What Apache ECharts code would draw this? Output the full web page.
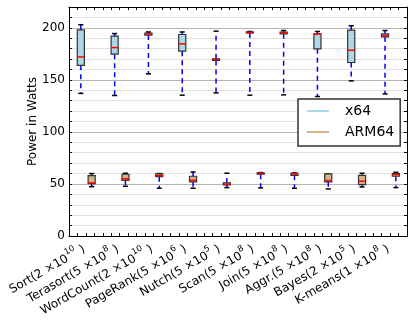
<!DOCTYPE html>
<html>
<head>
<meta charset="utf-8">
<script src="https://cdn.jsdelivr.net/npm/echarts@6/dist/echarts.min.js"></script>
<style>
  html, body { margin: 0; padding: 0; background: #fff; }
  #chart { width: 415px; height: 324px; }
</style>
</head>
<body>
<div id="chart"></div>
<script>
// workload names with input sizes
const categories = [
  'Sort(2 ×10¹⁰ )', 'Terasort(5 ×10⁸ )', 'WordCount(2 ×10¹⁰ )', 'PageRank(5 ×10⁶ )',
  'Nutch(5 ×10⁵ )', 'Scan(5 ×10⁸ )', 'Join(5 ×10⁸ )', 'Aggr.(5 ×10⁸ )',
  'Bayes(2 ×10⁵ )', 'K-means(1 ×10⁸ )'
]

// [low whisker, q1, median, q3, high whisker]
const x64Stats = [
  [137, 164, 172, 198, 203],
  [135, 174.7, 181, 192, 194.5],
  [155.8, 193, 194, 195, 196],
  [135.3, 177.6, 184.6, 193.6, 196],
  [137.5, 168.7, 169.6, 170.3, 196.8],
  [135.3, 195, 195.5, 196, 196.5],
  [135.6, 194.2, 195.2, 196, 197.4],
  [134, 179.8, 194, 194.2, 196.5],
  [149, 166.7, 178.5, 197.8, 202],
  [136.5, 191.3, 192.6, 194.2, 197.4]
]

const arm64Stats = [
  [47.4, 50.3, 51, 58, 60],
  [47.8, 53.5, 55, 59.3, 60.3],
  [45.9, 57, 58, 59.6, 60],
  [45.9, 52, 53.5, 57.4, 61.5],
  [46.5, 49, 49.7, 51, 60.3],
  [46.2, 59.3, 60, 60.6, 60.9],
  [45.9, 58.3, 59.6, 60.3, 60.6],
  [45.2, 52, 53.2, 59.6, 59.6],
  [47.1, 49.4, 52.6, 58.3, 60.3],
  [46.5, 57.4, 59, 60, 61.2]
]

const FONT = 'DejaVu Sans'
const SUP = { '⁰': '0', '¹': '1', '²': '2', '³': '3', '⁴': '4', '⁵': '5', '⁶': '6', '⁷': '7', '⁸': '8', '⁹': '9' }

// turn unicode superscripts into rich text fragments
function richLabel(s) {
  return s.replace(/([⁰¹²³⁴⁵⁶⁷⁸⁹]+)/g, m => '}{sup|' + m.split('').map(c => SUP[c]).join('') + '}{n|')
    .replace(/^/, '{n|') + '}'
}

const chart = echarts.init(document.getElementById('chart'), null, { renderer: 'canvas' })

function boxRenderer(fill) {
  return function (params, api) {
    const x = api.value(0)
    const pLo = api.coord([x, api.value(1)])
    const pQ1 = api.coord([x, api.value(2)])
    const pMed = api.coord([x, api.value(3)])
    const pQ3 = api.coord([x, api.value(4)])
    const pHi = api.coord([x, api.value(5)])
    const cx = pLo[0]
    const bw = api.size([0.21, 0])[0]
    const cw = api.size([0.15, 0])[0]
    const whisker = { stroke: '#0000ff', lineWidth: 1.5, lineDash: [5, 4] }
    const cap = { stroke: '#000', lineWidth: 1.5 }
    return {
      type: 'group',
      children: [
        { type: 'line', shape: { x1: cx, y1: pQ3[1], x2: cx, y2: pHi[1] }, style: whisker },
        { type: 'line', shape: { x1: cx, y1: pQ1[1], x2: cx, y2: pLo[1] }, style: whisker },
        { type: 'line', shape: { x1: cx - cw / 2, y1: pHi[1], x2: cx + cw / 2, y2: pHi[1] }, style: cap },
        { type: 'line', shape: { x1: cx - cw / 2, y1: pLo[1], x2: cx + cw / 2, y2: pLo[1] }, style: cap },
        {
          type: 'rect',
          shape: { x: cx - bw / 2, y: pQ3[1], width: bw, height: pQ1[1] - pQ3[1] },
          style: { fill: fill, stroke: '#333', lineWidth: 1.2 }
        },
        { type: 'line', shape: { x1: cx - bw / 2, y1: pMed[1], x2: cx + bw / 2, y2: pMed[1] }, style: { stroke: '#ff0000', lineWidth: 1.5 } }
      ]
    }
  }
}

const x64Data = x64Stats.map((s, i) => [i + 0.35].concat(s))
const arm64Data = arm64Stats.map((s, i) => [i + 0.67].concat(s))

const yTicks = {
  min: 0,
  max: 220,
  interval: 10
}

const option = {
  animation: false,
  textStyle: { fontFamily: FONT },
  grid: { left: 69, right: 8, top: 7, bottom: 88 },
  legend: {
    data: ['x64', 'ARM64'],
    orient: 'vertical',
    left: 298,
    top: 99,
    icon: 'rect',
    itemWidth: 22,
    itemHeight: 2,
    itemGap: 5,
    padding: [4, 6, 6, 9],
    backgroundColor: '#fff',
    borderColor: '#333',
    borderWidth: 1.5,
    borderRadius: 0,
    textStyle: { fontFamily: FONT, fontSize: 14, color: '#000', lineHeight: 16, padding: [0, 0, 0, 11] }
  },
  xAxis: [
    {
      type: 'category',
      data: categories,
      boundaryGap: true,
      position: 'bottom',
      axisLine: { show: false },
      axisTick: { show: false },
      splitLine: { show: false },
      axisLabel: {
        interval: 0,
        rotate: 30,
        margin: 9,
        padding: [0, 3, 0, 0],
        fontFamily: FONT,
        fontSize: 12,
        color: '#000',
        formatter: v => richLabel(v),
        rich: {
          n: { fontFamily: FONT, fontSize: 12, color: '#000', lineHeight: 16, verticalAlign: 'bottom' },
          sup: { fontFamily: FONT, fontSize: 8.5, color: '#000', lineHeight: 16, verticalAlign: 'top' }
        }
      }
    },
    {
      type: 'value',
      min: 0,
      max: 10,
      interval: 0.25,
      position: 'bottom',
      axisLine: { show: true, onZero: false, lineStyle: { color: '#000', width: 1 } },
      axisTick: { show: true, inside: true, length: 3, lineStyle: { color: '#000' } },
      axisLabel: { show: false },
      splitLine: { show: false }
    },
    {
      type: 'value',
      min: 0,
      max: 10,
      interval: 0.25,
      position: 'top',
      axisLine: { show: true, onZero: false, lineStyle: { color: '#000', width: 1 } },
      axisTick: { show: true, inside: true, length: 3, lineStyle: { color: '#000' } },
      axisLabel: { show: false },
      splitLine: { show: false }
    }
  ],
  yAxis: [
    {
      type: 'value',
      ...yTicks,
      position: 'left',
      name: 'Power in Watts',
      nameLocation: 'middle',
      nameGap: 30,
      nameMoveOverlap: false,
      nameTextStyle: { fontFamily: FONT, fontSize: 12, color: '#000' },
      axisLine: { show: true, onZero: false, lineStyle: { color: '#000', width: 1 } },
      axisTick: { show: true, inside: true, length: 3, lineStyle: { color: '#000' } },
      axisLabel: {
        fontFamily: FONT,
        fontSize: 12,
        color: '#000',
        margin: 4,
        formatter: v => (v % 50 === 0 ? String(v) : '')
      },
      splitLine: {
        show: true,
        lineStyle: { color: ['#b4b4b4', '#e2e2e2', '#e2e2e2', '#e2e2e2', '#e2e2e2'], width: 1 }
      }
    },
    {
      type: 'value',
      ...yTicks,
      position: 'right',
      axisLine: { show: true, onZero: false, lineStyle: { color: '#000', width: 1 } },
      axisTick: { show: true, inside: true, length: 3, lineStyle: { color: '#000' } },
      axisLabel: { show: false },
      splitLine: { show: false }
    }
  ],
  series: [
    {
      name: 'x64',
      type: 'custom',
      xAxisIndex: 1,
      yAxisIndex: 0,
      itemStyle: { color: '#add8e6' },
      renderItem: boxRenderer('#add8e6'),
      encode: { x: 0, y: [1, 2, 3, 4, 5] },
      data: x64Data
    },
    {
      name: 'ARM64',
      type: 'custom',
      xAxisIndex: 1,
      yAxisIndex: 0,
      itemStyle: { color: '#d2b48c' },
      renderItem: boxRenderer('#d2b48c'),
      encode: { x: 0, y: [1, 2, 3, 4, 5] },
      data: arm64Data
    }
  ]
}

chart.setOption(option)
</script>
</body>
</html>
